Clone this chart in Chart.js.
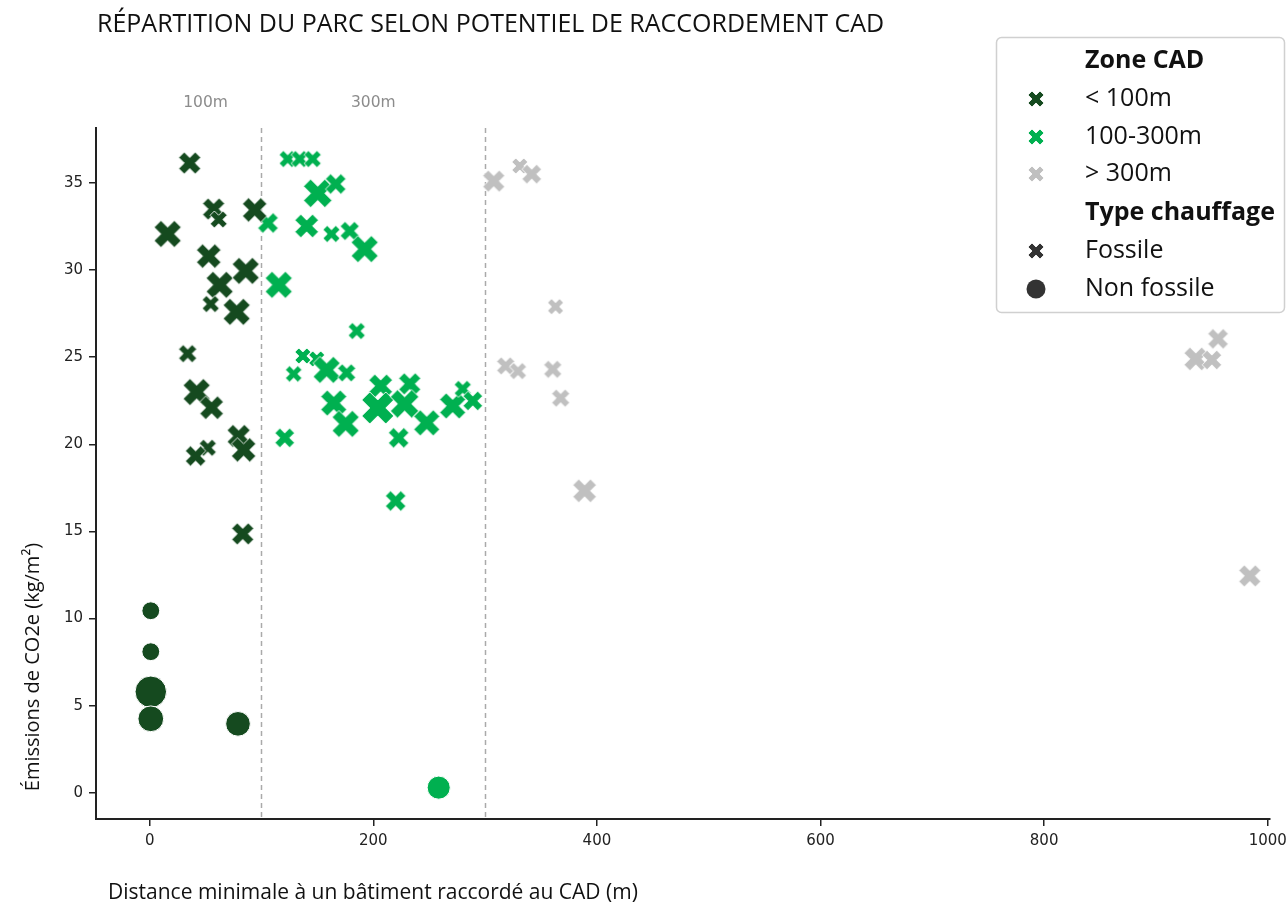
<!DOCTYPE html>
<html>
<head>
<meta charset="utf-8">
<script src="https://cdn.jsdelivr.net/npm/chart.js@4.4.1/dist/chart.umd.min.js"></script>
<style>
    body { margin: 0; background: #fff; }
    canvas { display: block; }
</style>
</head>
<body>
<canvas id="chart" width="1287" height="908"></canvas>
<script>
// Data - size classes are relative marker sizes 1..4
const darkFosX = [35.8, 16.1, 57.2, 61.7, 93.9, 52.8, 62.6, 85.9, 54.6, 77.8, 34, 42, 55.4, 52, 41.1, 79.6, 84, 83.2];
const darkFosY = [36.14, 32.07, 33.5, 32.9, 33.45, 30.8, 29.15, 29.95, 28.05, 27.6, 25.2, 23.0, 22.1, 19.8, 19.33, 20.48, 19.68, 14.86];
const darkFosSize = [2, 3, 2, 1, 2.5, 2.5, 3, 3, 1, 3, 1.2, 3, 2.3, 1, 1.7, 2.2, 2.5, 2];

const midFosX = [123.4, 134.2, 145.8, 150.3, 166.4, 105.8, 140.4, 162.6, 178.9, 192.3, 115.4, 185.2, 137, 149.4, 128.8, 158.3, 176.2, 164.6, 175.3, 206.6, 204, 232.6, 228, 247.8, 222.7, 120.8, 271, 280, 289, 220];
const midFosY = [36.37, 36.37, 36.37, 34.4, 34.94, 32.7, 32.53, 32.07, 32.24, 31.2, 29.15, 26.5, 25.07, 24.9, 24.04, 24.27, 24.1, 22.37, 21.17, 23.35, 22.09, 23.47, 22.32, 21.23, 20.37, 20.37, 22.2, 23.18, 22.49, 16.75];
const midFosSize = [1, 1, 1, 3.3, 1.7, 1.7, 2.3, 1, 1.4, 3, 3, 1, 0.8, 0.8, 0.9, 3, 1.2, 2.8, 3, 2.3, 4, 2, 3.3, 2.8, 1.7, 1.5, 2.8, 1, 1.5, 1.7];

const farFosX = [307.7, 331, 341.7, 363, 318.4, 329.4, 360.5, 367.6, 389, 955.5, 935.6, 950, 983.9];
const farFosY = [35.1, 35.97, 35.5, 27.9, 24.5, 24.2, 24.3, 22.65, 17.33, 26.05, 24.9, 24.84, 12.45];
const farFosSize = [2, 0.8, 1.5, 0.8, 1.2, 1, 1.2, 1.2, 2.3, 1.7, 2.3, 1.5, 2];

const darkNonFosX = [1, 1, 1, 1, 79];
const darkNonFosY = [10.45, 8.1, 5.8, 4.25, 3.96];
const darkNonFosSize = [1, 1, 3.6, 2.5, 2.3];

const midNonFosX = [258.5];
const midNonFosY = [0.3];
const midNonFosSize = [2];

const xTicks = [0, 200, 400, 600, 800, 1000];
const yTicks = [0, 5, 10, 15, 20, 25, 30, 35];
const zoneBounds = [100, 300];
const zoneLabels = ['100m', '300m'];
const legendZone = ['< 100m', '100-300m', '> 300m'];
const legendType = ['Fossile', 'Non fossile'];

const DARK = '#154a1f';
const MID = '#00b050';
const GREY = '#c0c0c0';
const SANS = '"Open Sans", "Noto Sans", sans-serif';

// size class -> half width of the marker in px
function sizePx(c) { return 6 + 2.5 * c; }

// filled X marker with a thin white edge, cached per size/colour
const markerCache = {};
function makeX(half, color) {
    const key = half.toFixed(2) + color;
    if (markerCache[key]) return markerCache[key];
    const L = half / 0.943;
    const w = L / 3;
    const dim = Math.ceil(2 * half + 4);
    const c = document.createElement('canvas');
    c.width = dim; c.height = dim;
    const g = c.getContext('2d');
    g.translate(dim / 2, dim / 2);
    g.rotate(Math.PI / 4);
    const pts = [[-w, -L], [w, -L], [w, -w], [L, -w], [L, w], [w, w], [w, L], [-w, L], [-w, w], [-L, w], [-L, -w], [-w, -w]];
    g.beginPath();
    pts.forEach((p, i) => i ? g.lineTo(p[0], p[1]) : g.moveTo(p[0], p[1]));
    g.closePath();
    g.fillStyle = color;
    g.fill();
    g.strokeStyle = '#fff';
    g.lineWidth = 0.8;
    g.stroke();
    markerCache[key] = c;
    return c;
}

function toPoints(xs, ys) {
    return xs.map((x, i) => ({ x: x, y: ys[i] }));
}

function crossSet(label, xs, ys, sizes, color) {
    return {
        label: label,
        data: toPoints(xs, ys),
        pointStyle: ctx => makeX(sizePx(sizes[ctx.dataIndex]), color),
        pointRadius: ctx => sizePx(sizes[ctx.dataIndex]),
        backgroundColor: color,
        borderColor: color
    };
}

function circleSet(label, xs, ys, sizes, color) {
    return {
        label: label,
        data: toPoints(xs, ys),
        pointStyle: 'circle',
        pointRadius: ctx => sizePx(sizes[ctx.dataIndex]) * 1.05,
        backgroundColor: color,
        borderColor: '#fff',
        borderWidth: 1
    };
}

// Overlays: zone lines, texts and legend
const overlay = {
    id: 'overlay',
    beforeDatasetsDraw(chart) {
        const { ctx, chartArea, scales } = chart;
        ctx.save();
        ctx.strokeStyle = '#aaaaaa';
        ctx.lineWidth = 1.5;
        ctx.setLineDash([5, 4]);
        zoneBounds.forEach(b => {
            const px = Math.round(scales.x.getPixelForValue(b)) + 0.5;
            ctx.beginPath();
            ctx.moveTo(px, chartArea.top);
            ctx.lineTo(px, chartArea.bottom);
            ctx.stroke();
        });
        ctx.restore();
    },
    afterDraw(chart) {
        const { ctx, scales } = chart;
        ctx.save();

        // zone labels, centred in each zone
        ctx.fillStyle = '#8c8c8c';
        ctx.font = '15.5px "DejaVu Sans", sans-serif';
        ctx.textAlign = 'center';
        ctx.textBaseline = 'middle';
        let prev = 0;
        zoneBounds.forEach((b, i) => {
            ctx.fillText(zoneLabels[i], scales.x.getPixelForValue((prev + b) / 2), 103);
            prev = b;
        });

        // title
        ctx.fillStyle = '#111';
        ctx.textAlign = 'left';
        ctx.font = '25px ' + SANS;
        ctx.fillText('RÉPARTITION DU PARC SELON POTENTIEL DE RACCORDEMENT CAD', 97, 25);

        // axis titles
        ctx.font = '21px ' + SANS;
        ctx.fillText('Distance minimale à un bâtiment raccordé au CAD (m)', 108, 893);
        ctx.save();
        ctx.translate(33, 667);
        ctx.rotate(-Math.PI / 2);
        ctx.textAlign = 'center';
        ctx.font = '20px ' + SANS;
        ctx.fillText('Émissions de CO2e (kg/m²)', 0, 0);
        ctx.restore();

        // legend box
        ctx.fillStyle = '#fff';
        ctx.strokeStyle = '#d0d0d0';
        ctx.lineWidth = 1.5;
        ctx.beginPath();
        ctx.roundRect(996.5, 37.5, 288, 275, 5);
        ctx.fill();
        ctx.stroke();

        const tx = 1085, mx = 1036;
        const rows = [61, 99, 137, 174, 213, 251, 289];
        ctx.fillStyle = '#111';
        ctx.textAlign = 'left';
        ctx.font = 'bold 25px ' + SANS;
        ctx.fillText('Zone CAD', tx, rows[0]);
        ctx.fillText('Type chauffage', tx, rows[4]);
        ctx.font = '25px ' + SANS;
        const zoneCols = [DARK, MID, GREY];
        legendZone.forEach((t, i) => {
            const m = makeX(8, zoneCols[i]);
            ctx.drawImage(m, mx - m.width / 2, rows[i + 1] - m.height / 2);
            ctx.fillText(t, tx, rows[i + 1]);
        });
        const fx = makeX(8, '#333');
        ctx.drawImage(fx, mx - fx.width / 2, rows[5] - fx.height / 2);
        ctx.fillText(legendType[0], tx, rows[5]);
        ctx.fillStyle = '#333';
        ctx.beginPath();
        ctx.arc(mx, rows[6], 9.5, 0, Math.PI * 2);
        ctx.fill();
        ctx.fillStyle = '#111';
        ctx.fillText(legendType[1], tx, rows[6]);

        ctx.restore();
    }
};

const axisCommon = {
    type: 'linear',
    grid: { display: true, drawOnChartArea: false, drawTicks: true, tickLength: 7, color: '#222', lineWidth: 1.5 },
    border: { display: true, color: '#222', width: 2 },
    ticks: {
        color: '#222',
        padding: 6,
        font: { family: '"DejaVu Sans", sans-serif', size: 15 },
        callback: v => String(v)
    }
};

new Chart(document.getElementById('chart'), {
    type: 'scatter',
    data: {
        datasets: [
            crossSet('< 100m fossile', darkFosX, darkFosY, darkFosSize, DARK),
            crossSet('100-300m fossile', midFosX, midFosY, midFosSize, MID),
            crossSet('> 300m fossile', farFosX, farFosY, farFosSize, GREY),
            circleSet('< 100m non fossile', darkNonFosX, darkNonFosY, darkNonFosSize, DARK),
            circleSet('100-300m non fossile', midNonFosX, midNonFosY, midNonFosSize, MID)
        ]
    },
    options: {
        responsive: false,
        animation: false,
        layout: { padding: { top: 128, right: 17, left: 0, bottom: 0 } },
        plugins: { legend: { display: false }, tooltip: { enabled: false } },
        scales: {
            x: {
                ...axisCommon,
                min: -48, max: 1002,
                afterBuildTicks: s => { s.ticks = xTicks.map(v => ({ value: v })); },
                afterFit: s => { s.height = 89; s.paddingRight = 0; s.paddingLeft = 0; }
            },
            y: {
                ...axisCommon,
                min: -1.5, max: 38.15,
                afterBuildTicks: s => { s.ticks = yTicks.map(v => ({ value: v })); },
                afterFit: s => { s.width = 96; }
            }
        }
    },
    plugins: [overlay]
});
</script>
</body>
</html>
